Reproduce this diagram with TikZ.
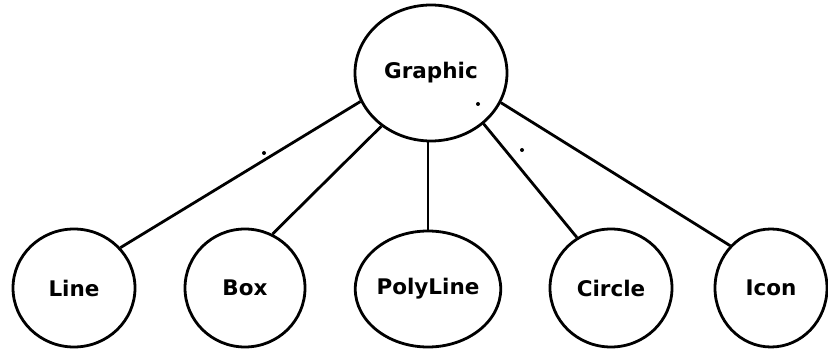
\documentclass[tikz,border=0pt]{standalone}
\usepackage{fontspec}
\usetikzlibrary{shapes.geometric}
\newfontfamily\labelfont{DejaVu Sans}

\begin{document}
\begin{tikzpicture}[x=1pt,y=-1pt,
  cls/.style={ellipse, draw, line width=2.8pt, inner sep=0pt,
    minimum width=122pt, minimum height=118pt,
    font=\labelfont\bfseries\fontsize{21.5}{24}\selectfont},
  link/.style={line width=2.8pt},
  speck/.style={fill=black, draw=none}]

  % page frame
  \fill[white] (0,0) rectangle (828,350);
  \useasboundingbox (0,0) rectangle (828,350);

  % superclass
  \node[cls, minimum width=152pt, minimum height=136pt] (g) at (431,73) {Graphic};

  % subclasses
  \node[cls] (line) at (74,288) {Line};
  \node[cls, minimum width=120pt] (box) at (245,288) {Box};
  \node[cls, minimum width=132pt, minimum height=116pt] (poly) at (428,289) {PolyLine};
  \node[cls] (circ) at (611,288) {Circle};
  \node[cls, minimum width=112pt] (icon) at (771,288) {Icon};

  % inheritance links
  \draw[link] (g.202) -- (line.41);
  \draw[link] (g.227) -- (box.63);
  \draw[link] (poly.north) -- (poly.north |- g.south);
  \draw[link] (g.316) -- (circ.124);
  \draw[link] (g.337) -- (icon.134);

  % stray ink dots
  \fill[speck] (478,104) circle (2pt);
  \fill[speck] (264,153) circle (2pt);
  \fill[speck] (522,150) circle (2pt);
\end{tikzpicture}
\end{document}
